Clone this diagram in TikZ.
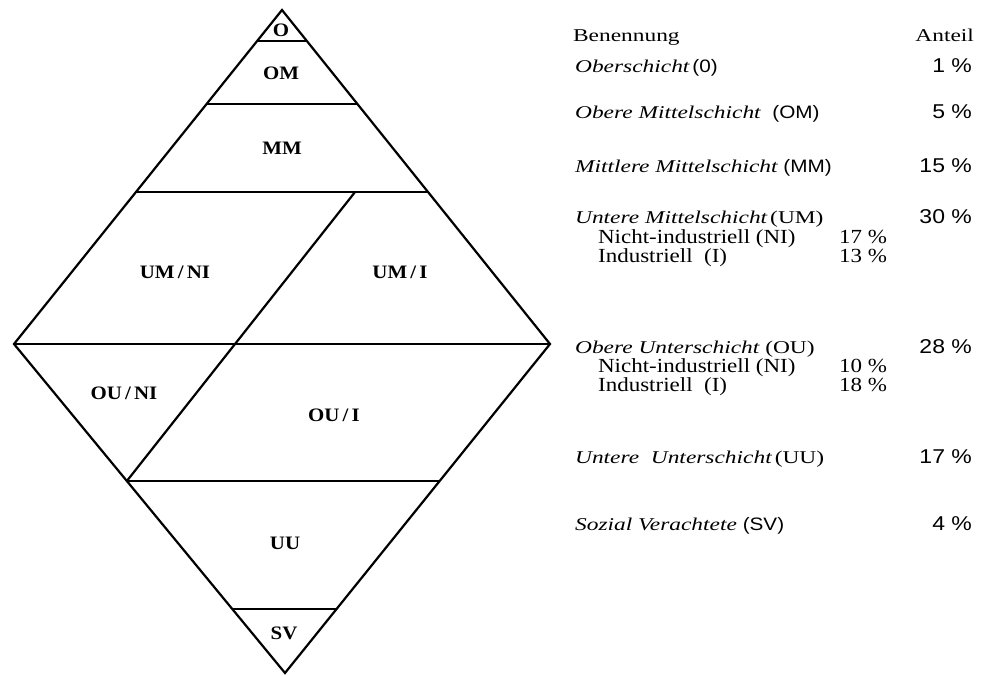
\documentclass[tikz,border=0pt]{standalone}
\usepackage{fontspec}
\usetikzlibrary{calc}
\setmainfont{Liberation Serif}
\newfontfamily\serw[FakeStretch=1.3]{Liberation Serif}
\newfontfamily\sers[FakeStretch=1.15]{Liberation Serif}
\newfontfamily\sanw[FakeStretch=1.15]{Liberation Sans}
\newfontfamily\labf[FakeStretch=1.1]{Liberation Serif}
\newcommand{\slsep}{\,/\,}
\begin{document}
\begin{tikzpicture}[x=1pt,y=-1pt,line width=2.2pt,line join=miter,
  lbl/.style={font=\labf\bfseries\fontsize{19}{19}\selectfont,inner sep=0pt},
  nm/.style={anchor=base west,inner sep=0pt,font=\serw\fontsize{18}{18}\selectfont},
  subitem/.style={anchor=base west,inner sep=0pt,font=\sers\fontsize{20}{20}\selectfont},
  pct/.style={anchor=base east,inner sep=0pt,font=\sanw\fontsize{20}{20}\selectfont}]
\useasboundingbox (0,0) rectangle (984,675);
% diamond
\coordinate (T) at (282,10);
\coordinate (L) at (14,344);
\coordinate (R) at (550,344);
\coordinate (B) at (285,673);
\draw (T) -- (R) -- (B) -- (L) -- cycle;
% horizontal lines
\coordinate (a1) at ($(T)!0.0928!(L)$); \coordinate (a2) at ($(T)!0.0928!(R)$);
\coordinate (b1) at ($(T)!0.2814!(L)$); \coordinate (b2) at ($(T)!0.2814!(R)$);
\coordinate (c1) at ($(T)!0.545!(L)$);  \coordinate (c2) at ($(T)!0.545!(R)$);
\coordinate (e1) at ($(L)!0.4164!(B)$); \coordinate (e2) at ($(R)!0.4164!(B)$);
\coordinate (f1) at ($(L)!0.8055!(B)$); \coordinate (f2) at ($(R)!0.8055!(B)$);
\draw (a1) -- (a2);
\draw (b1) -- (b2);
\draw (c1) -- (c2);
\draw (L) -- (R);
\draw (e1) -- (e2);
\draw (f1) -- (f2);
% divider
\coordinate (d1) at ($(c1)!0.75!(c2)$);
\draw (d1) -- (e1);
% labels
\node[lbl] (lO) at (281,30) {O};
\node[lbl] (lOM) at (281,73) {OM};
\node[lbl] (lMM) at (282,148) {MM};
\node[lbl] (lUMNI) at (175,272) {UM\slsep NI};
\node[lbl] (lUMI) at (400,272) {UM\slsep I};
\node[lbl] (lOUNI) at (124,393) {OU\slsep NI};
\node[lbl] (lOUI) at (334,415) {OU\slsep I};
\node[lbl] (lUU) at (285,543) {UU};
\node[lbl] (lSV) at (284,633) {SV};
% right table
\node[nm] (hB) at (572,41) {Benennung};
\node[pct,font=\serw\fontsize{18}{18}\selectfont] (hA) at (975,41) {Anteil};
\node[nm] (n1) at (574,72) {\itshape Oberschicht\upshape\,{\sanw(0)}};
\node[pct] (p1) at (973,72) {1 \%};
\node[nm] (n2) at (574,118) {\itshape Obere Mittelschicht\upshape\ \ {\sanw(OM)}};
\node[pct] (p2) at (973,118) {5 \%};
\node[nm] (n3) at (574,172) {\itshape Mittlere Mittelschicht\upshape\ {\sanw(MM)}};
\node[pct] (p3) at (973,172) {15 \%};
\node[nm] (n4) at (574,223) {\itshape Untere Mittelschicht\upshape\,(UM)};
\node[pct] (p4) at (973,223) {30 \%};
\node[subitem] (s1) at (597,243) {Nicht-industriell (NI)};
\node[subitem] (q1) at (838,243) {17 \%};
\node[subitem] (s2) at (597,262) {Industriell\ \ (I)};
\node[subitem] (q2) at (838,262) {13 \%};
\node[nm] (n5) at (574,353) {\itshape Obere Unterschicht\upshape\ (OU)};
\node[pct] (p5) at (973,353) {28 \%};
\node[subitem] (s3) at (597,372) {Nicht-industriell\ (NI)};
\node[subitem] (q3) at (838,372) {10 \%};
\node[subitem] (s4) at (597,391) {Industriell\ \ (I)};
\node[subitem] (q4) at (838,391) {18 \%};
\node[nm] (n6) at (574,463) {\itshape Untere\ \ Unterschicht\upshape\,(UU)};
\node[pct] (p6) at (973,463) {17 \%};
\node[nm] (n7) at (574,530) {\itshape Sozial\ Verachtete\upshape\ {\sanw(SV)}};
\node[pct] (p7) at (973,530) {4 \%};
\end{tikzpicture}
\end{document}
